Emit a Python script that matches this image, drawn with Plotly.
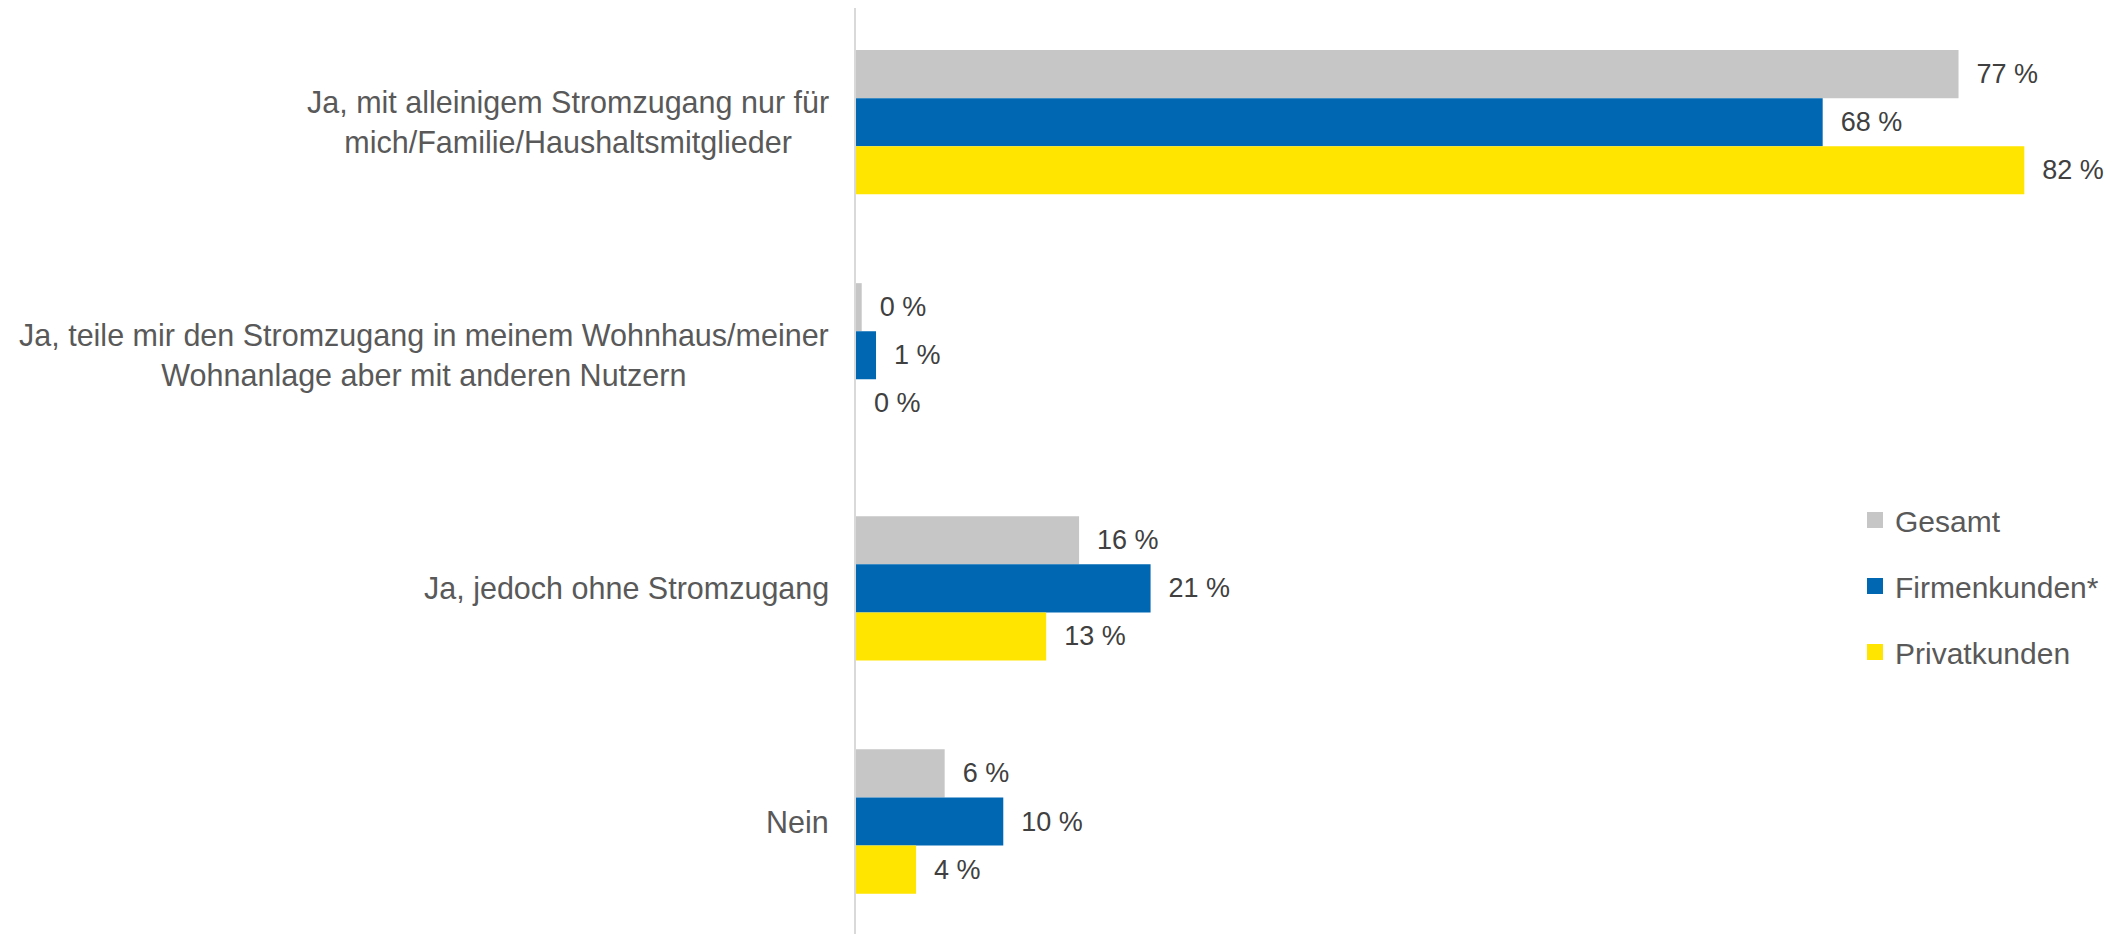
import plotly.graph_objects as go

categories = [
    "Ja, mit alleinigem Stromzugang nur für<br>mich/Familie/Haushaltsmitglieder",
    "Ja, teile mir den Stromzugang in meinem Wohnhaus/meiner<br>Wohnanlage aber mit anderen Nutzern",
    "Ja, jedoch ohne Stromzugang",
    "Nein",
]
series_names = ["Gesamt", "Firmenkunden*", "Privatkunden"]
gesamt = [77.1, 0.4, 15.6, 6.2]
firmenkunden = [67.6, 1.4, 20.6, 10.3]
privatkunden = [81.7, 0.0, 13.3, 4.2]
colors = ["#c6c6c6", "#0068b3", "#ffe500"]

values = [gesamt, firmenkunden, privatkunden]
# page has an 8px body margin; figure is sized to fill the rest of the window
OFF = 8
W, H = 2121 - OFF, 934 - OFF
L, R, T, B = 856 - OFF, 0, 0, 0
px_per_pct = 14.3
xmax = (W - L - R) / px_per_pct
band = 233.1
center0 = 122.2 - OFF
y_top = -center0 / band
y_bot = (H - T - B - center0) / band

fig = go.Figure()
for name, vals, col in zip(series_names, values, colors):
    fig.add_trace(go.Bar(
        y=list(range(len(categories))), x=vals, orientation="h", name=name,
        marker=dict(color=col, line=dict(width=0)),
        texttemplate="\u00a0\u00a0%{x:.0f} %", textposition="outside",
        textfont=dict(family="Liberation Sans, Arial, sans-serif", size=27, color="#404040"),
        cliponaxis=False, showlegend=False, hoverinfo="skip",
    ))
# legend entries
for i, (name, col) in enumerate(zip(series_names, colors)):
    fig.add_trace(go.Scatter(
        x=[None], y=[None], mode="markers", name=name,
        marker=dict(symbol="square", size=16, color=col),
        legendgroup=f"g{i}", showlegend=True,
    ))

for i, cat in enumerate(categories):
    fig.add_annotation(
        x=0, xref="paper", y=i, yref="y", xanchor="right", yanchor="middle",
        xshift=-25, text=cat, align="center", showarrow=False,
        font=dict(family="Liberation Sans, Arial, sans-serif", size=30.5, color="#595959"),
    )

fig.update_layout(
    width=W, height=H,
    margin=dict(l=L, r=R, t=T, b=B, pad=0),
    paper_bgcolor="white", plot_bgcolor="white",
    barmode="group", bargap=0.381, bargroupgap=0,
    showlegend=True,
    legend=dict(
        x=(1855 - OFF - L) / (W - L - R), xanchor="left",
        y=1 - (494 - OFF - T) / (H - T - B), yanchor="top",
        font=dict(family="Liberation Sans, Arial, sans-serif", size=30, color="#595959"),
        tracegroupgap=24, bgcolor="rgba(0,0,0,0)", borderwidth=0,
    ),
    xaxis=dict(range=[0, xmax], visible=False, fixedrange=True),
    yaxis=dict(
        range=[y_bot, y_top],
        showline=True, linecolor="#d9d9d9", linewidth=2,
        showticklabels=False, ticks="", showgrid=False, zeroline=False,
    ),
)

fig.write_html("out.html")
